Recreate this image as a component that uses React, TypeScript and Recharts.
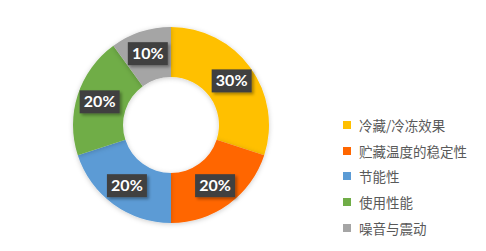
import React from 'react';
import { PieChart, Pie, Cell, Legend } from 'recharts';

const categories = ['冷藏/冷冻效果', '贮藏温度的稳定性', '节能性', '使用性能', '噪音与震动'];
const shares = [30, 20, 20, 20, 10];
const colors = ['#FFC000', '#FF6600', '#5B9BD5', '#70AD47', '#A5A5A5'];

const data = categories.map((name, i) => ({ name, value: shares[i] }));

const RADIAN = Math.PI / 180;

const renderLabel = (props: any) => {
  const { cx, cy, midAngle, innerRadius, outerRadius, value } = props;
  const r = (innerRadius + outerRadius) / 2 + 2;
  const x = cx + r * Math.cos(-midAngle * RADIAN);
  const y = cy + r * Math.sin(-midAngle * RADIAN);
  const w = 40;
  const h = 23;
  return (
    <g>
      <rect x={x - w / 2} y={y - h / 2} width={w} height={h} fill="#404040" filter="url(#boxShadow)" />
      <text
        x={x}
        y={y + 1}
        textAnchor="middle"
        dominantBaseline="middle"
        fill="#ffffff"
        fontSize={16}
        fontWeight="bold"
        fontFamily="Lato, 'Liberation Sans', sans-serif"
      >
        {value}%
      </text>
    </g>
  );
};

const renderLegend = () => (
  <div style={{ fontFamily: "'Noto Sans CJK SC', sans-serif", fontSize: 13.5, color: '#595959' }}>
    {categories.map((name, i) => (
      <div key={name} style={{ display: 'flex', alignItems: 'center', height: 25.8 }}>
        <span style={{ width: 8, height: 8, background: colors[i], marginRight: 8, display: 'inline-block' }} />
        <span>{name}</span>
      </div>
    ))}
  </div>
);

const App: React.FC = () => {
  return (
    <div style={{ position: 'fixed', left: 0, top: 0, width: 486, height: 251, background: '#fff' }}>
      <PieChart width={486} height={251} margin={{ top: 0, right: 0, bottom: 0, left: 0 }}>
        <defs>
          <filter id="boxShadow" x="-30%" y="-30%" width="160%" height="160%">
            <feDropShadow dx="2" dy="2" stdDeviation="1.5" floodColor="#000" floodOpacity="0.35" />
          </filter>
          <filter id="pieShadow" x="-20%" y="-20%" width="140%" height="140%">
            <feDropShadow dx="0" dy="1" stdDeviation="2.5" floodColor="#000" floodOpacity="0.2" />
          </filter>
        </defs>
        <Pie
          data={data}
          dataKey="value"
          nameKey="name"
          cx={171}
          cy={125}
          innerRadius={48}
          outerRadius={98}
          startAngle={90}
          endAngle={-270}
          stroke="none"
          label={renderLabel}
          labelLine={false}
          isAnimationActive={false}
          style={{ filter: 'url(#pieShadow)' }}
        >
          {data.map((d, i) => (
            <Cell key={d.name} fill={colors[i]} />
          ))}
        </Pie>
        <Legend
          content={renderLegend}
          layout="vertical"
          wrapperStyle={{ position: 'absolute', left: 343, top: 112, width: 143 }}
        />
      </PieChart>
    </div>
  );
};

export default App;
